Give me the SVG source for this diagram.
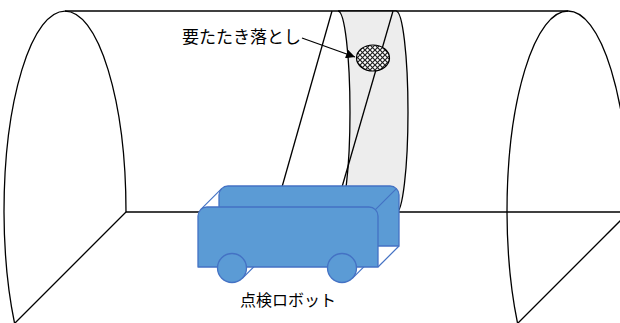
<svg xmlns="http://www.w3.org/2000/svg" width="620" height="323" viewBox="0 0 620 323">
  <style>
    .ln { fill: none; stroke: #000; stroke-width: 1.3; }
    .body { fill: #5B9BD5; stroke: #4472C4; stroke-width: 1.3; stroke-linejoin: round; }
    .edge { fill: none; stroke: #4472C4; stroke-width: 1.2; }
    .lbl { font-family: "Noto Sans CJK JP", "Noto Sans", sans-serif; fill: #000; }
  </style>
  <defs>
    <pattern id="crosshatch" width="5" height="5" patternUnits="userSpaceOnUse">
      <rect width="5" height="5" fill="#fff"/>
      <path d="M0,0 L5,5 M5,0 L0,5" stroke="#222" stroke-width="1.2"/>
    </pattern>
    <marker id="arrowhead" viewBox="0 0 10 10" refX="10" refY="5" markerWidth="10" markerHeight="9" markerUnits="userSpaceOnUse" orient="auto">
      <path d="M0,0 L10,5 L0,10 Z" fill="#000"/>
    </marker>
  </defs>

  <!-- tunnel shell -->
  <g id="tunnel">
    <path class="ln" d="M126,212 A61,201 0 0 0 4,212 A61,201 0 0 0 14.5,323"/>
    <line class="ln" x1="126" y1="212" x2="15" y2="323"/>
    <path class="ln" d="M629,212 A61,201 0 0 0 507,212 A61,201 0 0 0 517.5,323"/>
    <line class="ln" x1="629" y1="212" x2="518" y2="323"/>
    <line class="ln" x1="65" y1="11" x2="568" y2="11"/>
    <line class="ln" x1="126" y1="212" x2="620" y2="212"/>
  </g>

  <!-- inspected ring section -->
  <g id="band">
    <path class="ln" style="fill:#EDEDED" d="M338,11 L396,11 A12,101 0 0 1 396,213 L338,213 A12,101 0 0 0 338,11 Z"/>
  </g>

  <!-- inspection sight lines -->
  <g id="sight-lines">
    <line class="ln" x1="332" y1="11" x2="282" y2="187"/>
    <line class="ln" x1="393" y1="11" x2="342" y2="187"/>
  </g>

  <!-- defect spot -->
  <g id="defect">
    <ellipse cx="373" cy="58" rx="16.5" ry="13" fill="url(#crosshatch)" stroke="#000" stroke-width="1.2"/>
  </g>

  <g id="connectors">
    <line class="ln" x1="302" y1="38" x2="355" y2="57" marker-end="url(#arrowhead)"/>
  </g>

  <g id="defect-label">
    <text class="lbl" x="182" y="43" font-size="17">要たたき落とし</text>
  </g>

  <!-- inspection robot -->
  <g id="robot">
    <path class="body" d="M219,246 V195 A9,9 0 0 1 228,186 H390 A9,9 0 0 1 399,195 V246 Z"/>
    <line class="edge" x1="200.6" y1="209.6" x2="221.6" y2="188.6"/>
    <line class="edge" x1="375.4" y1="209.6" x2="396.4" y2="188.6"/>
    <line class="edge" x1="378" y1="267" x2="399" y2="246"/>
    <line class="edge" x1="242.3" y1="278.3" x2="263.3" y2="257.3"/>
    <line class="edge" x1="352.3" y1="278.3" x2="373.3" y2="257.3"/>
    <path class="body" d="M198,267 V216 A9,9 0 0 1 207,207 H369 A9,9 0 0 1 378,216 V267 Z"/>
    <circle class="body" cx="232" cy="268" r="14.5"/>
    <circle class="body" cx="342" cy="268" r="14.5"/>
  </g>

  <g id="robot-label">
    <text class="lbl" x="240" y="306" font-size="16">点検ロボット</text>
  </g>
</svg>
